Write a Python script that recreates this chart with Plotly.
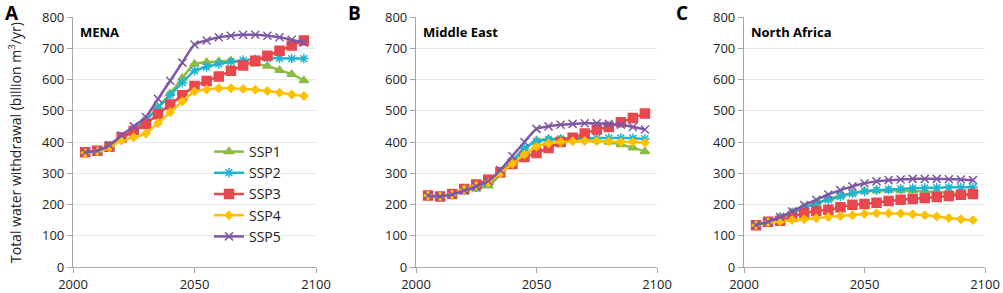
import plotly.graph_objects as go

years = list(range(2005, 2100, 5))
scenarios = ["SSP1", "SSP2", "SSP3", "SSP4", "SSP5"]
colors = ["#8DBB45", "#1FB4CF", "#E8474E", "#FFC000", "#7E58A6"]
symbols = ["triangle-up", "asterisk-open", "square", "diamond", "x-thin-open"]
marker_sizes = [8, 8, 9, 6, 8]

mena_ssp1 = [367, 372, 388, 410, 440, 470, 510, 555, 605, 650, 655, 658, 660, 655, 650, 643, 630, 617, 597]
mena_ssp2 = [367, 372, 388, 410, 440, 470, 510, 550, 590, 628, 640, 650, 657, 662, 665, 668, 668, 667, 667]
mena_ssp3 = [367, 372, 385, 415, 435, 458, 489, 520, 550, 579, 595, 610, 628, 645, 660, 676, 692, 709, 725]
mena_ssp4 = [365, 370, 382, 405, 415, 427, 461, 495, 530, 562, 568, 572, 572, 570, 567, 563, 558, 552, 547]
mena_ssp5 = [367, 372, 390, 421, 450, 480, 538, 596, 654, 712, 725, 735, 740, 743, 743, 740, 735, 727, 718]

me_ssp1 = [229, 226, 232, 242, 250, 260, 295, 335, 375, 405, 410, 410, 410, 408, 405, 400, 392, 382, 370]
me_ssp2 = [229, 226, 232, 245, 255, 268, 300, 340, 380, 402, 408, 410, 412, 413, 413, 413, 413, 412, 410]
me_ssp3 = [229, 226, 234, 250, 264, 279, 303, 330, 352, 365, 381, 400, 414, 427, 440, 448, 463, 477, 491]
me_ssp4 = [229, 226, 232, 248, 260, 270, 300, 330, 360, 385, 395, 400, 402, 403, 403, 402, 400, 400, 398]
me_ssp5 = [229, 226, 232, 245, 258, 275, 310, 355, 400, 442, 450, 455, 458, 460, 460, 458, 455, 448, 440]

na_ssp1 = [134, 145, 160, 175, 190, 205, 218, 228, 237, 243, 245, 246, 245, 244, 242, 240, 237, 233, 229]
na_ssp2 = [134, 145, 158, 172, 188, 203, 215, 225, 235, 242, 246, 248, 250, 252, 253, 254, 255, 255, 255]
na_ssp3 = [134, 145, 148, 161, 172, 179, 183, 191, 199, 202, 206, 211, 215, 218, 221, 224, 227, 231, 234]
na_ssp4 = [134, 143, 146, 150, 153, 156, 160, 163, 166, 170, 172, 172, 171, 169, 166, 162, 157, 153, 150]
na_ssp5 = [134, 145, 160, 178, 198, 215, 232, 246, 258, 268, 274, 278, 280, 282, 282, 282, 281, 280, 278]

panel_letters = ["A", "B", "C"]
panel_titles = ["MENA", "Middle East", "North Africa"]
panel_series = [
    [mena_ssp1, mena_ssp2, mena_ssp3, mena_ssp4, mena_ssp5],
    [me_ssp1, me_ssp2, me_ssp3, me_ssp4, me_ssp5],
    [na_ssp1, na_ssp2, na_ssp3, na_ssp4, na_ssp5],
]
x_ticks = [2000, 2050, 2100]
y_ticks = list(range(0, 801, 100))
y_title = "Total water withdrawal (billion m<sup>3</sup>/yr)"

W, H = 1003, 293
# pixel extents of each plot area (left, right)
px_left = [73, 416, 744]
px_right = [316, 657, 985]
px_top, px_bottom = 17, 267

FONT = "Open Sans"
fig = go.Figure()

for p in range(3):
    xa = "x" if p == 0 else f"x{p+1}"
    ya = "y" if p == 0 else f"y{p+1}"
    for i, name in enumerate(scenarios):
        fig.add_trace(go.Scatter(
            x=years, y=panel_series[p][i], name=name,
            mode="lines+markers",
            line=dict(color=colors[i], width=2.5, shape="spline", smoothing=0.6),
            marker=dict(symbol=symbols[i], size=marker_sizes[i], color=colors[i],
                        line=dict(color=colors[i], width=1.5)),
            xaxis=xa, yaxis=ya, showlegend=(p == 0),
        ))
    axkey = "" if p == 0 else str(p + 1)
    fig.layout["xaxis" + axkey] = dict(
        domain=[px_left[p] / W, px_right[p] / W], anchor=ya, automargin=False,
        range=[2000, 2100], tickvals=x_ticks, showgrid=False,
        showline=True, linecolor="#A6A6A6", linewidth=1.2,
        ticks="outside", ticklen=5, tickcolor="#A6A6A6",
        tickfont=dict(family=FONT, size=13, color="#222"), zeroline=False,
    )
    fig.layout["yaxis" + axkey] = dict(
        domain=[(H - px_bottom) / H, (H - px_top) / H], anchor=xa, automargin=False,
        range=[0, 800], tickvals=y_ticks, showgrid=True, gridcolor="#E8E8E8",
        showline=True, linecolor="#A6A6A6", linewidth=1.2,
        ticks="outside", ticklen=5, tickcolor="#A6A6A6",
        tickfont=dict(family=FONT, size=13, color="#222"), zeroline=False,
    )
    fig.add_annotation(text=f"<b>{panel_letters[p]}</b>", xref="paper", yref="paper",
                       x=(px_left[p] - 70) / W, y=(H - 13) / H, xanchor="left", yanchor="middle",
                       showarrow=False, font=dict(family=FONT, size=19, color="black"))
    fig.add_annotation(text=f"<b>{panel_titles[p]}</b>", xref="paper", yref="paper",
                       x=(px_left[p] + 5) / W, y=(H - 32) / H, xanchor="left", yanchor="middle",
                       showarrow=False, font=dict(family=FONT, size=13, color="black"))

fig.add_annotation(text=y_title, xref="paper", yref="paper", x=15 / W, y=(H - 143) / H,
                   textangle=-90, xanchor="center", yanchor="middle", showarrow=False,
                   font=dict(family=FONT, size=14, color="#222"))

fig.update_layout(
    width=W, height=H, margin=dict(l=0, r=0, t=0, b=0),
    paper_bgcolor="white", plot_bgcolor="white",
    legend=dict(x=209 / W, y=(H - 136) / H, xanchor="left", yanchor="top",
                bgcolor="rgba(0,0,0,0)", font=dict(family=FONT, size=14, color="#222"),
                tracegroupgap=0),
    showlegend=True,
)

fig.write_html("out.html", config={"displayModeBar": False},
               post_script="document.body.style.margin='0';document.body.style.overflow='hidden';")
